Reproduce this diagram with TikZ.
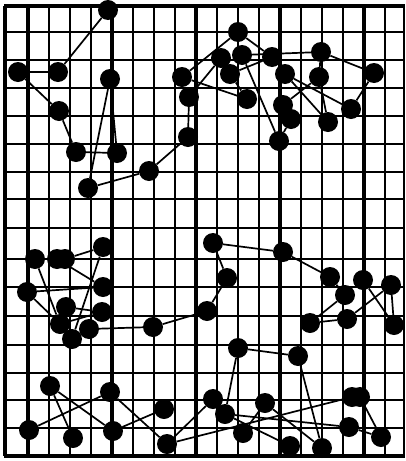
\documentclass[tikz,border=0pt]{standalone}
\begin{document}
\begin{tikzpicture}[x=1pt,y=-1pt,
  gridthin/.style={line width=1.7pt},
  gridthick/.style={line width=3.3pt},
  edge/.style={line width=1.7pt},
  dot/.style={circle,fill=black,inner sep=0pt,minimum size=20pt}]
\useasboundingbox (0,0) rectangle (406,461);
\fill[white] (0,0) rectangle (406,461);
% grid
\foreach \x in {49,70,91,133,154,175,217,238,259,301,322,343,385}
  \draw[gridthin] (\x,6) -- (\x,456);
\foreach \x in {5,28,112,196,280,364}
  \draw[gridthick] (\x,6) -- (\x,456);
\draw[gridthin] (404,6) -- (404,456);
\foreach \y in {32,60,88,116,144,172,199,228,259,287,316,345,373,400,428}
  \draw[gridthin] (5,\y) -- (404,\y);
\draw[gridthick] (4,6) -- (405,6);
\draw[gridthick] (4,456) -- (405,456);
% nodes top-left
\node[dot] (A) at (108,10) {};
\node[dot] (B) at (18,72) {};
\node[dot] (C) at (58,72) {};
\node[dot] (D) at (110,79) {};
\node[dot] (E) at (59,111) {};
\node[dot] (F) at (76,152) {};
\node[dot] (G) at (117,153) {};
\node[dot] (H) at (88,188) {};
\node[dot] (I) at (149,171) {};
\node[dot] (J) at (182,77) {};
\node[dot] (K) at (189,97) {};
\node[dot] (L) at (188,137) {};
% nodes top-right
\node[dot] (M) at (238,32) {};
\node[dot] (N) at (242,55) {};
\node[dot] (O) at (221,58) {};
\node[dot] (P) at (230,74) {};
\node[dot] (Q) at (272,57) {};
\node[dot] (R) at (321,52) {};
\node[dot] (S) at (285,74) {};
\node[dot] (T) at (319,77) {};
\node[dot] (U) at (374,73) {};
\node[dot] (V) at (247,99) {};
\node[dot] (W) at (283,105) {};
\node[dot] (X) at (291,119) {};
\node[dot] (Y) at (351,109) {};
\node[dot] (Z) at (328,122) {};
\node[dot] (AA) at (279,141) {};
% nodes middle-left
\node[dot] (a1) at (35,259) {};
\node[dot] (b1) at (57,259) {};
\node[dot] (b2) at (65,259) {};
\node[dot] (c1) at (103,247) {};
\node[dot] (d1) at (27,292) {};
\node[dot] (e1) at (103,287) {};
\node[dot] (f1) at (66,307) {};
\node[dot] (g1) at (102,312) {};
\node[dot] (h1) at (60,324) {};
\node[dot] (i1) at (89,329) {};
\node[dot] (j1) at (72,339) {};
\node[dot] (k1) at (153,327) {};
\node[dot] (l1) at (207,311) {};
% nodes middle-right
\node[dot] (m1) at (213,243) {};
\node[dot] (n1) at (227,278) {};
\node[dot] (p1) at (283,252) {};
\node[dot] (q1) at (330,277) {};
\node[dot] (r1) at (363,280) {};
\node[dot] (s1) at (391,285) {};
\node[dot] (t1) at (345,295) {};
\node[dot] (u1) at (310,323) {};
\node[dot] (v1) at (347,319) {};
\node[dot] (w1) at (394,325) {};
\node[dot] (x1) at (238,348) {};
\node[dot] (y1) at (298,356) {};
% nodes bottom
\node[dot] (B1) at (50,386) {};
\node[dot] (B2) at (110,392) {};
\node[dot] (B3) at (164,409) {};
\node[dot] (B4) at (29,430) {};
\node[dot] (B5) at (73,438) {};
\node[dot] (B6) at (113,431) {};
\node[dot] (B7) at (167,444) {};
\node[dot] (z1) at (213,399) {};
\node[dot] (z2) at (225,414) {};
\node[dot] (z3) at (265,403) {};
\node[dot] (z4a) at (352,397) {};
\node[dot] (z4b) at (360,397) {};
\node[dot] (z7) at (243,433) {};
\node[dot] (z8) at (290,446) {};
\node[dot] (z9) at (322,448) {};
\node[dot] (z10) at (349,427) {};
\node[dot] (z11) at (381,437) {};
% edges
\draw[edge] (A) -- (C);
\draw[edge] (B) -- (C);
\draw[edge] (B) -- (E);
\draw[edge] (E) -- (F);
\draw[edge] (F) -- (G);
\draw[edge] (D) -- (G);
\draw[edge] (D) -- (H);
\draw[edge] (H) -- (I);
\draw[edge] (I) -- (L);
\draw[edge] (L) -- (K);
\draw[edge] (J) -- (M);
\draw[edge] (J) -- (V);
\draw[edge] (K) -- (O);
\draw[edge] (M) -- (Q);
\draw[edge] (N) -- (R);
\draw[edge] (P) -- (Q);
\draw[edge] (N) -- (AA);
\draw[edge] (P) -- (V);
\draw[edge] (R) -- (U);
\draw[edge] (R) -- (T);
\draw[edge] (U) -- (Y);
\draw[edge] (T) -- (W);
\draw[edge] (T) -- (Z);
\draw[edge] (S) -- (Y);
\draw[edge] (S) -- (Z);
\draw[edge] (X) -- (AA);
\draw[edge] (b2) -- (c1);
\draw[edge] (a1) -- (h1);
\draw[edge] (b1) -- (e1);
\draw[edge] (d1) -- (e1);
\draw[edge] (d1) -- (h1);
\draw[edge] (f1) -- (g1);
\draw[edge] (h1) -- (g1);
\draw[edge] (c1) -- (j1);
\draw[edge] (i1) -- (k1);
\draw[edge] (k1) -- (l1);
\draw[edge] (m1) -- (p1);
\draw[edge] (p1) -- (q1);
\draw[edge] (m1) -- (n1);
\draw[edge] (n1) -- (l1);
\draw[edge] (q1) -- (t1);
\draw[edge] (t1) -- (u1);
\draw[edge] (u1) -- (v1);
\draw[edge] (v1) -- (s1);
\draw[edge] (r1) -- (w1);
\draw[edge] (s1) -- (w1);
\draw[edge] (x1) -- (y1);
\draw[edge] (x1) -- (z2);
\draw[edge] (y1) -- (z9);
\draw[edge] (B1) -- (B6);
\draw[edge] (B1) -- (B5);
\draw[edge] (B4) -- (B2);
\draw[edge] (B2) -- (B7);
\draw[edge] (B6) -- (B3);
\draw[edge] (B7) -- (z1);
\draw[edge] (B7) -- (z4a);
\draw[edge] (z2) -- (z10);
\draw[edge] (z3) -- (z7);
\draw[edge] (z3) -- (z9);
\draw[edge] (z2) -- (z8);
\draw[edge] (z4b) -- (z11);
\draw[edge] (z10) -- (z11);
\end{tikzpicture}
\end{document}
